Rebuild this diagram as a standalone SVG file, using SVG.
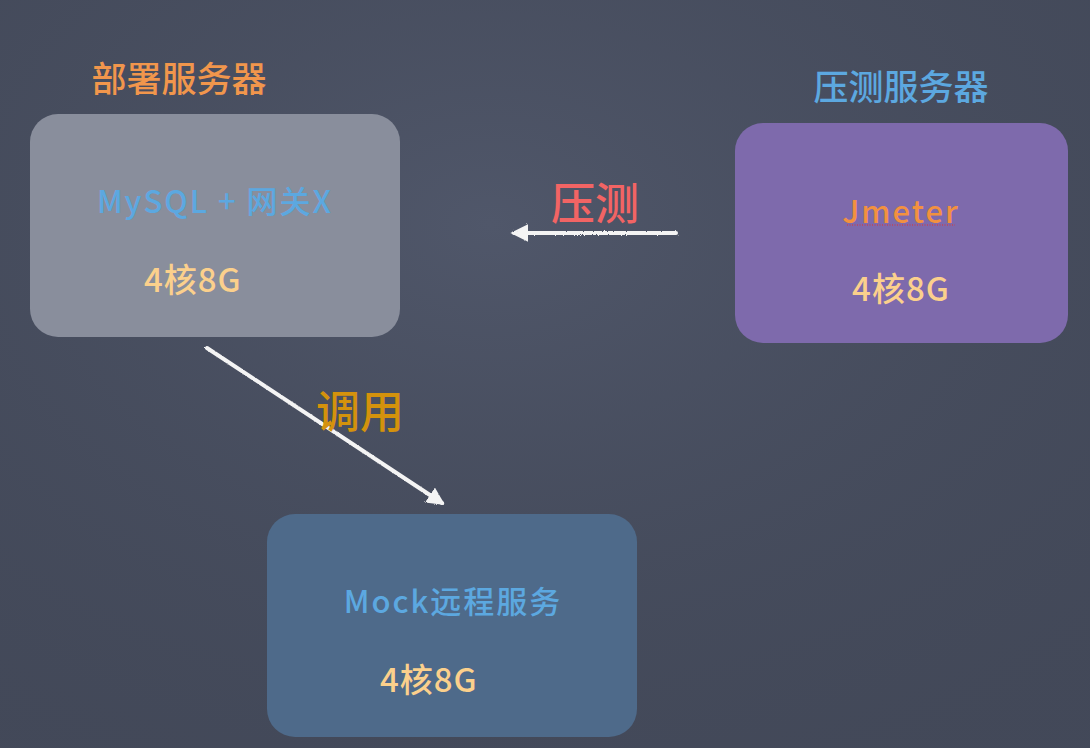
<svg xmlns="http://www.w3.org/2000/svg" width="1090" height="748" viewBox="0 0 1090 748">
  <defs>
    <radialGradient id="bg" cx="0.45" cy="0.3" r="0.8">
      <stop offset="0" stop-color="#50576a"/>
      <stop offset="1" stop-color="#3f4554" stop-opacity="0.4"/>
    </radialGradient>
    <filter id="chalk" x="-10%" y="-10%" width="120%" height="120%">
      <feTurbulence type="fractalNoise" baseFrequency="0.9" numOctaves="2" result="n"/>
      <feDisplacementMap in="SourceGraphic" in2="n" scale="2.5"/>
    </filter>
    <marker id="head" viewBox="0 0 10 10" refX="8" refY="5" markerWidth="4.5" markerHeight="4.5" orient="auto" markerUnits="strokeWidth">
      <path d="M0,0 L10,5 L0,10 Z" fill="#f4f4f4"/>
    </marker>
    <style>
      .t { font-family: "Noto Sans CJK SC", "Noto Sans", sans-serif; font-weight: 500; }
      .title { font-size: 35px; }
      .main { font-size: 31px; fill: #5ca8e0; letter-spacing: 2px; }
      .spec { font-size: 33px; fill: #fbd08c; letter-spacing: 1px; }
      .lab { font-size: 44px; }
      .box { stroke: none; }
      .wire { fill: none; stroke: #f4f4f4; stroke-width: 4; stroke-linecap: round; }
    </style>
  </defs>
  <rect width="1090" height="748" fill="#454b5c"/>
  <rect width="1090" height="748" fill="url(#bg)"/>

  <g id="deploy-server">
    <text class="t title" x="179" y="92" text-anchor="middle" fill="#f1964c">部署服务器</text>
    <rect class="box" x="30" y="114" width="370" height="223" rx="28" fill="#898e9c"/>
    <text class="t main" x="215" y="213" text-anchor="middle">MySQL + 网关X</text>
    <text class="t spec" x="144" y="292">4核8G</text>
  </g>

  <g id="load-server">
    <text class="t title" x="901" y="100" text-anchor="middle" fill="#5ca8e0">压测服务器</text>
    <rect class="box" x="735" y="123" width="333" height="220" rx="28" fill="#7e6aac"/>
    <text class="t main" x="901" y="223" text-anchor="middle" style="fill:#f2913f">Jmeter</text>
    <line x1="847" y1="225" x2="955" y2="225" stroke="#e03030" stroke-width="1" stroke-dasharray="1 1.5"/>
    <text class="t spec" x="901" y="301" text-anchor="middle">4核8G</text>
  </g>

  <g id="mock-service">
    <rect class="box" x="267" y="514" width="370" height="223" rx="28" fill="#4e6a8a"/>
    <text class="t main" x="453" y="613" text-anchor="middle">Mock远程服务</text>
    <text class="t spec" x="380" y="692">4核8G</text>
  </g>

  <g id="connectors">
    <g filter="url(#chalk)">
      <line class="wire" x1="676" y1="233" x2="514" y2="233" marker-end="url(#head)"/>
      <line class="wire" x1="207" y1="348" x2="442" y2="503" marker-end="url(#head)"/>
    </g>
    <text class="t lab" x="595" y="220" text-anchor="middle" fill="#f26464">压测</text>
    <text class="t lab" x="360" y="428" text-anchor="middle" fill="#d4920c">调用</text>
  </g>
</svg>
